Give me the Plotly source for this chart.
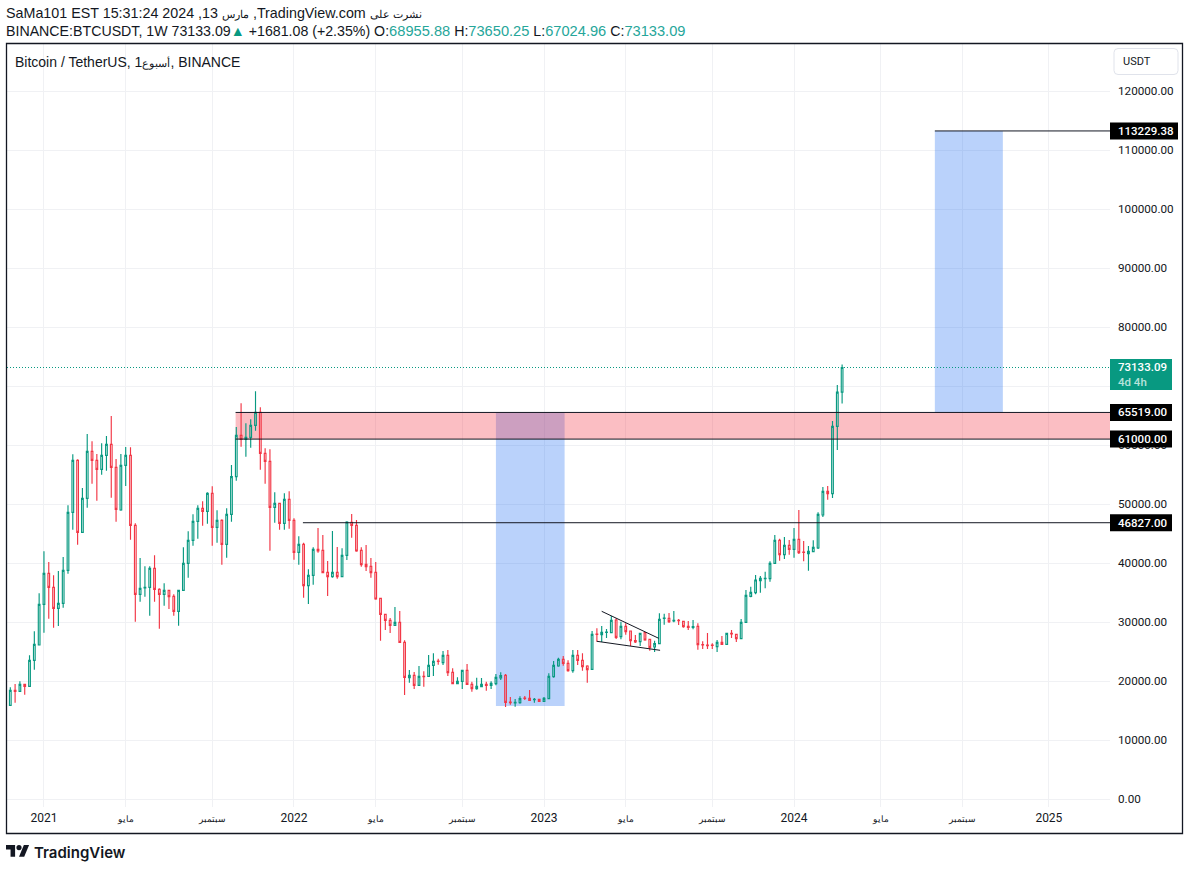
import pandas as pd
import plotly.graph_objects as go

# weekly BTCUSDT candles, first bar Monday 2020-11-16
first_week = '2020-11-16'

opens = [15877, 18419, 18250, 19436, 19097, 23504, 26103, 32996, 38251, 35878,
         32318, 33166, 38759, 48590, 57404, 45200, 50963, 58930, 57404, 55879,
         58252, 60116, 56218, 48986, 56557, 58252, 46387, 34691, 35765, 35878,
         39098, 35539, 34691, 35369, 34352, 31810, 35369, 39946, 43844, 47065,
         49268, 48760, 51811, 46048, 47234, 43166, 48251, 54636, 61642, 60964,
         61303, 63337, 65540, 58591, 57235, 49438, 50116, 46726, 50794, 47234,
         41810, 43166, 36160, 37912, 42319, 42149, 38420, 37686, 38420, 37686,
         41302, 46895, 46387, 42149, 39776, 39437, 38420, 34013, 31301, 30284,
         29437, 29945, 26555, 20566, 20962, 19267, 20792, 20792, 22657, 23391,
         23109, 24352, 21470, 19549, 19945, 21809, 19436, 18702, 19041, 19436,
         19267, 19549, 20510, 20962, 16442, 16272, 16329, 17120, 17063, 16837,
         16894, 16555, 17007, 20736, 22544, 23674, 22996, 21753, 24352, 23504,
         22544, 21979, 27968, 27855, 28250, 28194, 30341, 27516, 29267, 28476,
         26838, 26668, 28194, 27064, 25764, 26329, 30623, 30623, 30171, 30284,
         30115, 29267, 29098, 29267, 26160, 26103, 26103, 25821, 26555, 26216,
         28081, 27911, 27177, 29945, 34352, 34974, 37008, 37347, 37347, 39946,
         43844, 41415, 42997, 42319, 44014, 41867, 41584, 41923, 42545, 48138,
         52150, 51754, 63167, 68955.88]
highs = [18928, 19493, 19945, 19500, 24352, 28420, 34861, 41980, 40172, 37912,
         38646, 41019, 49777, 58421, 57574, 52715, 61868, 60625, 58478, 60286,
         61529, 64919, 57630, 58478, 59664, 59608, 46726, 40850, 39437, 39437,
         41302, 35708, 36556, 35450, 34691, 35450, 42658, 45370, 48251, 49777,
         50455, 51980, 52997, 48929, 47404, 49268, 56613, 63054, 67066, 63676,
         64354, 69100, 66388, 59438, 59269, 51980, 50229, 51811, 52150, 47573,
         44522, 43449, 38929, 42658, 45935, 44748, 40341, 45426, 42714, 42488,
         47065, 48308, 47291, 42658, 43053, 40850, 40172, 34126, 31400, 30680,
         32544, 31866, 26894, 21866, 21527, 22544, 21640, 24408, 24691, 23787,
         25086, 25256, 22148, 20623, 21900, 22883, 19888, 20566, 20510, 19888,
         19945, 21188, 21470, 21188, 17289, 16950, 17402, 17459, 18476, 17120,
         16950, 17289, 21301, 23391, 23956, 24239, 23504, 25256, 25256, 24691,
         22657, 28476, 28928, 29324, 28815, 31019, 30623, 30058, 29776, 28550,
         27798, 28194, 28307, 27177, 26838, 31471, 31414, 31527, 31866, 30510,
         30171, 30171, 30341, 29776, 26725, 28137, 26386, 26951, 27629, 28150,
         28646, 27980, 30510, 35426, 35991, 37968, 37799, 38533, 40285, 44748,
         44100, 44409, 43901, 45935, 48986, 43731, 42884, 43844, 48590, 52884,
         53054, 64071, 70173, 73650.25]
lows = [15800, 16329, 18200, 17685, 19050, 21922, 26046, 28194, 30567, 29041,
        29324, 32431, 38194, 45652, 43110, 45150, 49381, 53449, 50568, 54975,
        55653, 51076, 47008, 48873, 53054, 43957, 30058, 33448, 34296, 31075,
        33448, 28872, 32770, 32205, 31075, 29380, 35300, 37516, 42940, 44127,
        46330, 46669, 42940, 43449, 39720, 40906, 47008, 53958, 59721, 58026,
        59551, 62433, 55822, 53449, 42093, 46839, 45652, 45652, 45822, 40567,
        39720, 34126, 33053, 36330, 41754, 38251, 34409, 37516, 37347, 37650,
        40511, 44296, 41923, 39381, 38646, 37516, 33787, 26838, 28646, 28137,
        29380, 26499, 17628, 19719, 18645, 19154, 19041, 20736, 20849, 22770,
        22713, 20849, 19500, 19500, 18645, 19400, 18193, 18532, 18984, 18363,
        18645, 19267, 20171, 15594, 15990, 15651, 16159, 16781, 16668, 16329,
        16498, 16498, 16950, 20566, 22431, 22600, 21583, 21414, 22713, 21753,
        19719, 21922, 26668, 26612, 27290, 28150, 27120, 27064, 27855, 25934,
        26442, 25934, 26838, 25143, 24917, 26273, 29550, 29832, 29945, 29493,
        29041, 28646, 28759, 25312, 25425, 25425, 25425, 24917, 26150, 26150,
        27290, 26612, 27100, 29900, 34183, 34691, 34974, 35708, 36838, 39900,
        40398, 40680, 41415, 40906, 41528, 40285, 38703, 41850, 42375, 47799,
        50737, 51020, 59156, 67024.96]
closes = [18419, 18250, 19436, 19097, 23504, 26216, 32996, 38251, 35878, 32318,
          33166, 38759, 48590, 57404, 45200, 50963, 58930, 57404, 55879, 58252,
          60116, 56218, 49099, 56557, 58252, 46387, 34691, 35708, 35878, 39098,
          35539, 34691, 35369, 34296, 31810, 35369, 39946, 43844, 47065, 49268,
          48760, 51811, 46048, 47234, 43166, 48251, 54636, 61642, 60964, 61303,
          63337, 65540, 58591, 57235, 49438, 50116, 46726, 50794, 47234, 41810,
          43166, 36160, 37912, 42319, 42036, 38364, 37686, 38420, 37686, 41302,
          46952, 46387, 42036, 39720, 39381, 38364, 33900, 31301, 30284, 29437,
          29945, 26555, 20623, 20962, 19267, 20792, 20736, 22657, 23335, 23335,
          24352, 21414, 19549, 19945, 21809, 19436, 18702, 19097, 19436, 19267,
          19606, 20623, 20905, 16385, 16329, 16385, 17007, 17063, 16724, 16894,
          16555, 17063, 20792, 22657, 23674, 22996, 21753, 24352, 23504, 22431,
          21922, 27911, 27911, 28250, 28307, 30284, 27403, 29267, 28363, 26838,
          26612, 28081, 26951, 25708, 26329, 30454, 30680, 30058, 30284, 30228,
          29211, 29098, 29211, 26160, 26103, 25990, 26047, 26555, 26216, 28081,
          27968, 27177, 29945, 34522, 35030, 37121, 37403, 37403, 39946, 43844,
          41415, 42997, 42319, 44014, 41754, 41810, 41980, 42658, 48251, 52150,
          51754, 63167, 68955.88, 73133.09]

price_ticks = [0, 10000, 20000, 30000, 40000, 50000, 60000, 70000, 80000, 90000, 100000, 110000, 120000]
# 70000 sits behind the live price tag, so it gets no label
price_labels = ['0.00', '10000.00', '20000.00', '30000.00', '40000.00', '50000.00', '60000.00', '',
                '80000.00', '90000.00', '100000.00', '110000.00', '120000.00']
time_ticks = ['2021-01-04', '2021-05-03', '2021-09-06', '2022-01-03', '2022-05-02', '2022-09-05',
              '2023-01-02', '2023-05-01', '2023-09-04', '2024-01-01', '2024-05-06', '2024-09-02', '2025-01-06']
time_labels = ['2021', 'مايو', 'سبتمبر', '2022', 'مايو', 'سبتمبر',
               '2023', 'مايو', 'سبتمبر', '2024', 'مايو', 'سبتمبر', '2025']

last_price = 73133.09
target_price = 113229.38
zone_top = 65519.00
zone_bottom = 61000.00
support_price = 46827.00
measure_low = 15763

UP = '#089981'
DOWN = '#f23645'
INK = '#131722'
GRID = '#f0f1f4'
BLUE = 'rgba(28,105,242,0.3)'
PINK = 'rgba(242,54,69,0.32)'

W, H = 1189, 870
ML, MR, MT, MB = 7, 79, 44, 63

def px(x):
    return (x - ML) / (W - ML - MR)

def py(y):
    return 1 - (y - MT) / (H - MT - MB)

weeks = pd.date_range(first_week, periods=len(opens), freq='7D')

fig = go.Figure(go.Candlestick(
    x=weeks, open=opens, high=highs, low=lows, close=closes, whiskerwidth=0,
    increasing=dict(line=dict(color=UP, width=1.15), fillcolor='rgba(0,0,0,0)'),
    decreasing=dict(line=dict(color=DOWN, width=1.15), fillcolor='rgba(0,0,0,0)'),
    showlegend=False,
))

# drawings on the chart
def rect(x0, x1, y0, y1, color):
    fig.add_shape(type='rect', xref='x', yref='y', x0=x0, x1=x1, y0=y0, y1=y1,
                  fillcolor=color, line_width=0, layer='between')

def line(x0, y0, x1, y1):
    fig.add_shape(type='line', xref='x', yref='y', x0=x0, x1=x1, y0=y0, y1=y1,
                  line=dict(color=INK, width=1))

axis_end = '2025-04-05'
rect('2022-10-24', '2023-02-01', measure_low, zone_top, BLUE)
rect('2024-07-24', '2024-10-31', zone_top, target_price, BLUE)
rect('2021-10-10', axis_end, zone_bottom, zone_top, PINK)
line('2021-10-10', zone_top, axis_end, zone_top)
line('2021-10-10', zone_bottom, axis_end, zone_bottom)
line('2022-01-16', support_price, axis_end, support_price)
line('2024-07-24', target_price, axis_end, target_price)
line('2023-03-27', 31814, '2023-06-18', 27237)
line('2023-03-20', 26729, '2023-06-20', 25203)

fig.add_shape(type='line', xref='paper', yref='y', x0=0, x1=1, y0=last_price, y1=last_price,
              line=dict(color=UP, width=1, dash='1px,2px'))

# frame round the pane, USDT button, logo
fig.add_shape(type='rect', xref='paper', yref='paper', x0=px(6.5), x1=px(1182.5), y0=py(43.5), y1=py(833.5),
              line=dict(color=INK, width=1.3))

def round_box(x0, y0, x1, y1, r):
    return (f'M {px(x0 + r)} {py(y0)} L {px(x1 - r)} {py(y0)} Q {px(x1)} {py(y0)} {px(x1)} {py(y0 + r)} '
            f'L {px(x1)} {py(y1 - r)} Q {px(x1)} {py(y1)} {px(x1 - r)} {py(y1)} '
            f'L {px(x0 + r)} {py(y1)} Q {px(x0)} {py(y1)} {px(x0)} {py(y1 - r)} '
            f'L {px(x0)} {py(y0 + r)} Q {px(x0)} {py(y0)} {px(x0 + r)} {py(y0)} Z')

fig.add_shape(type='path', xref='paper', yref='paper', path=round_box(1114, 48.5, 1178, 74.5, 4),
              fillcolor='white', line=dict(color='#e0e3eb', width=1))

def logo_path(points):
    return 'M ' + ' L '.join(f'{px(6 + a * 0.65)} {py(845 + b * 0.65)}' for a, b in points) + ' Z'

fig.add_shape(type='path', xref='paper', yref='paper', fillcolor=INK, line_width=0,
              path=logo_path([(0, 0), (14, 0), (14, 18), (7, 18), (7, 7), (0, 7)]))
fig.add_shape(type='path', xref='paper', yref='paper', fillcolor=INK, line_width=0,
              path=logo_path([(27.5, 0), (35.5, 0), (28, 18), (20, 18)]))
fig.add_shape(type='circle', xref='paper', yref='paper', fillcolor=INK, line_width=0,
              x0=px(6 + 16 * 0.65), x1=px(6 + 24 * 0.65), y0=py(845), y1=py(845 + 8 * 0.65))

def text(x, y, s, size=14, color=INK, family='Liberation Sans', weight=None):
    fig.add_annotation(xref='paper', yref='paper', x=px(x), y=py(y), text=s, showarrow=False,
                       xanchor='left', yanchor='middle', align='left', borderpad=0,
                       font=dict(size=size, color=color, family=family, weight=weight))

def val(s):
    return f'<span style="color:#26a69a;font-size:14.65px">{s}</span>'

def ar(s, size=11):
    return f'<span style="font-size:{size}px">{s}</span>'

text(5, 13, 'SaMa101 EST 15:31:24 2024 ,13 ' + ar('مارس') + ' ,TradingView.com ' + ar('نشرت على'), size=14.3)
text(5, 31, 'BINANCE:BTCUSDT, 1W 73133.09' + '<span style="color:#089981">▲</span>'
     + ' +1681.08 (+2.35%) O:' + val('68955.88') + ' H:' + val('73650.25')
     + ' L:' + val('67024.96') + ' C:' + val('73133.09'), size=14.2)
text(14, 62, 'Bitcoin / TetherUS, 1' + ar('أسبوع') + ', BINANCE')
text(1122, 62, 'USDT', size=11, family='Roboto')
text(33, 852, 'TradingView', size=15, family='Inter', weight=600)

# price labels on the scale
def price_tag(price, right=1172):
    fig.add_shape(type='rect', xref='paper', yref='y', ysizemode='pixel', yanchor=price, y0=-8.5, y1=8.5,
                  x0=1, x1=px(right), fillcolor='black', line_width=0)
    fig.add_annotation(xref='paper', yref='y', x=px(1116.5), y=price, text=f'{price:.2f}', showarrow=False,
                       xanchor='left', yanchor='middle', borderpad=0,
                       font=dict(size=11.5, color='white', family='Roboto', weight=500))

price_tag(target_price, right=1178)
price_tag(zone_top)
price_tag(zone_bottom)
price_tag(support_price)

fig.add_shape(type='rect', xref='paper', yref='paper', x0=1, x1=px(1172), y0=py(359), y1=py(390),
              fillcolor=UP, line_width=0)
text(1116.5, 374.5, f'{last_price:.2f}<br><span style="color:#b7e3da">4d 4h</span>', size=11.5, color='white',
     family='Roboto', weight=500)

fig.update_layout(
    width=W, height=H, margin=dict(l=ML, r=MR, t=MT, b=MB),
    paper_bgcolor='white', plot_bgcolor='white', boxgap=0.5,
    font=dict(family='Roboto', size=12, color=INK),
    showlegend=False, hovermode=False,
    xaxis=dict(type='date', range=[weeks[0] - pd.Timedelta(hours=115), axis_end],
               rangeslider=dict(visible=False), tickmode='array', tickvals=time_ticks,
               ticktext=[t if t.isdigit() else ar(t, 9) for t in time_labels],
               showgrid=True, gridcolor=GRID, gridwidth=1, zeroline=False, showline=False, ticks='',
               tickangle=0, ticklabelstandoff=2, tickfont=dict(size=12, color=INK)),
    yaxis=dict(side='right', range=[-1356, 127966], tickmode='array', tickvals=price_ticks,
               ticktext=price_labels, showgrid=True, gridcolor=GRID, gridwidth=1,
               zeroline=False, showline=False, ticks='', ticklabelstandoff=7, tickfont=dict(size=11.7, color=INK)),
)

fig.write_html("out.html", config={'displayModeBar': False}, post_script="document.body.style.margin='0';")
